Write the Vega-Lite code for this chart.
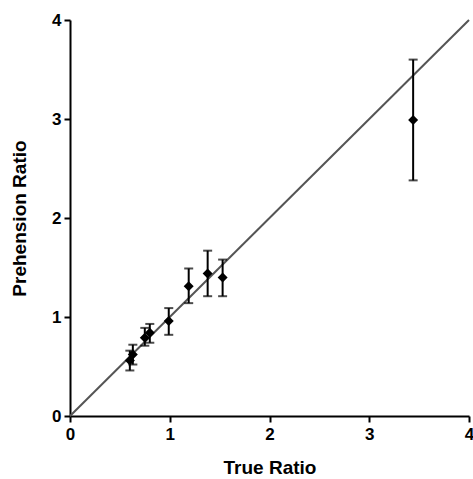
{
  "$schema": "https://vega.github.io/schema/vega-lite/v6.json",
  "width": 399,
  "height": 396,
  "autosize": "none",
  "padding": {"left": 70, "top": 20, "right": 4, "bottom": 63},
  "background": "white",
  "config": {
    "view": {"stroke": null},
    "axis": {
      "grid": false,
      "domainColor": "black",
      "domainWidth": 2,
      "tickColor": "black",
      "tickWidth": 2,
      "tickSize": 6,
      "labelFont": "Liberation Sans",
      "labelFontWeight": "bold",
      "labelFontSize": 17,
      "labelColor": "black",
      "labelFlush": false,
      "format": "d",
      "titleFont": "Liberation Sans",
      "titleFontWeight": "bold",
      "titleFontSize": 19,
      "titleColor": "black"
    }
  },
  "datasets": {
    "pts": [
      {"true": 0.60, "prehension": 0.56, "lo": 0.46, "hi": 0.66},
      {"true": 0.63, "prehension": 0.62, "lo": 0.52, "hi": 0.72},
      {"true": 0.75, "prehension": 0.79, "lo": 0.71, "hi": 0.89},
      {"true": 0.80, "prehension": 0.84, "lo": 0.74, "hi": 0.93},
      {"true": 0.99, "prehension": 0.96, "lo": 0.82, "hi": 1.09},
      {"true": 1.19, "prehension": 1.31, "lo": 1.14, "hi": 1.49},
      {"true": 1.38, "prehension": 1.44, "lo": 1.21, "hi": 1.67},
      {"true": 1.53, "prehension": 1.40, "lo": 1.21, "hi": 1.58},
      {"true": 3.44, "prehension": 2.99, "lo": 2.38, "hi": 3.60}
    ],
    "line": [
      {"x1": 0, "y1": 0, "x2": 4, "y2": 4}
    ]
  },
  "layer": [
    {
      "data": {"name": "line"},
      "mark": {"type": "rule", "color": "#555555", "strokeWidth": 2},
      "encoding": {
        "x": {"field": "x1", "type": "quantitative", "scale": {"domain": [0, 4], "nice": false},
              "axis": {"title": "True Ratio", "values": [0, 1, 2, 3, 4], "titlePadding": 16, "labelPadding": 4}},
        "y": {"field": "y1", "type": "quantitative", "scale": {"domain": [0, 4], "nice": false},
              "axis": {"title": "Prehension Ratio", "values": [0, 1, 2, 3, 4], "titlePadding": 22, "labelPadding": 3}},
        "x2": {"field": "x2"},
        "y2": {"field": "y2"}
      }
    },
    {
      "data": {"name": "pts"},
      "mark": {"type": "rule", "color": "black", "strokeWidth": 2},
      "encoding": {
        "x": {"field": "true", "type": "quantitative"},
        "y": {"field": "lo", "type": "quantitative"},
        "y2": {"field": "hi"}
      }
    },
    {
      "data": {"name": "pts"},
      "mark": {"type": "tick", "orient": "horizontal", "color": "black", "size": 9, "thickness": 2},
      "encoding": {
        "x": {"field": "true", "type": "quantitative"},
        "y": {"field": "lo", "type": "quantitative"}
      }
    },
    {
      "data": {"name": "pts"},
      "mark": {"type": "tick", "orient": "horizontal", "color": "black", "size": 9, "thickness": 2},
      "encoding": {
        "x": {"field": "true", "type": "quantitative"},
        "y": {"field": "hi", "type": "quantitative"}
      }
    },
    {
      "data": {"name": "pts"},
      "mark": {"type": "point", "shape": "diamond", "filled": true, "color": "black", "size": 100, "opacity": 1, "strokeWidth": 0},
      "encoding": {
        "x": {"field": "true", "type": "quantitative"},
        "y": {"field": "prehension", "type": "quantitative"}
      }
    }
  ]
}
